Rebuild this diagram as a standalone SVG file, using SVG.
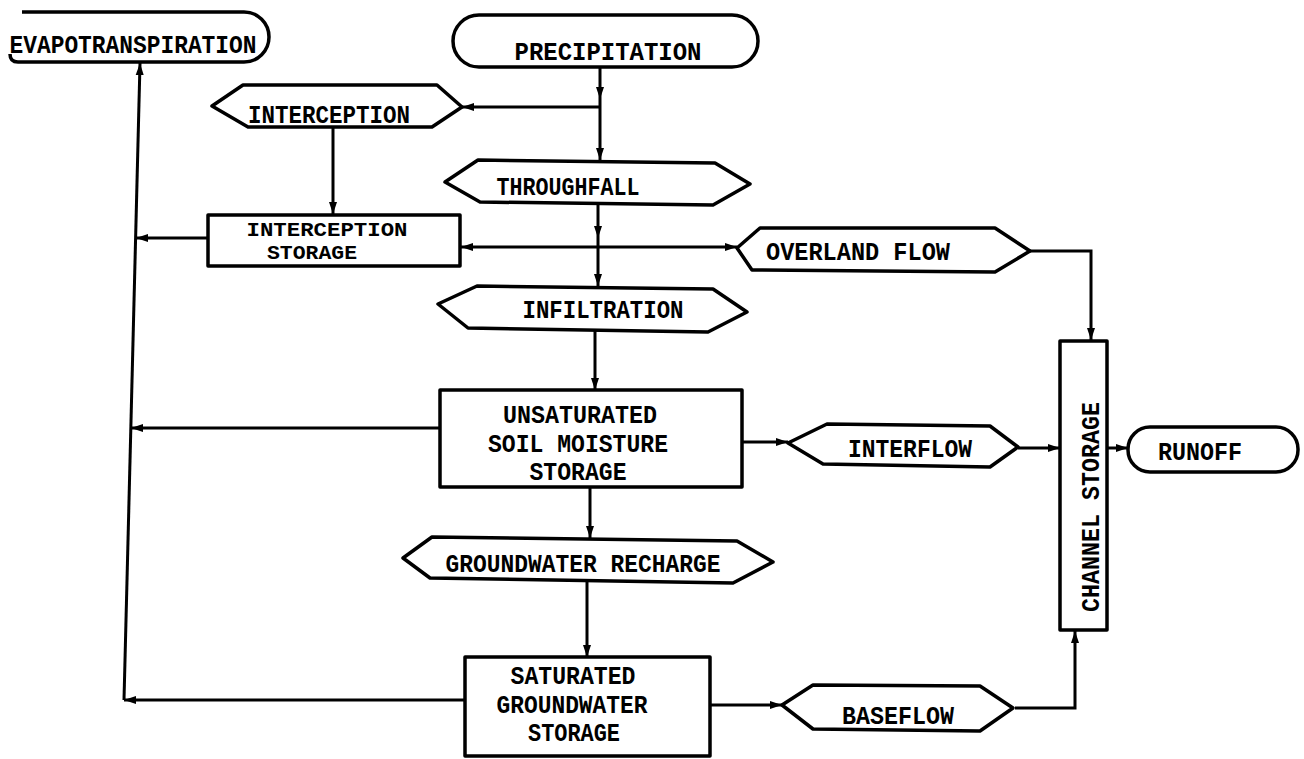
<svg xmlns="http://www.w3.org/2000/svg" width="1304" height="759" viewBox="0 0 1304 759">
<style>
.n{fill:#fff;stroke:#000;stroke-width:3.5;stroke-linejoin:round}
.t{font-family:"Liberation Mono",monospace;font-weight:bold;font-size:25px;fill:#000;text-anchor:middle}
.s{font-size:21px}
.c{fill:none;stroke:#000;stroke-width:3}
.a{marker-end:url(#ah)}
</style>
<defs>
<marker id="ah" markerUnits="userSpaceOnUse" viewBox="0 0 12 10" refX="12" refY="5" markerWidth="12" markerHeight="10" orient="auto">
<path d="M0,1 L12,5 L0,9 z" fill="#000"/>
</marker>
</defs>
<rect width="1304" height="759" fill="#fff"/>
<g id="connectors">
<path class="c a" d="M600,67 L600,99"/>
<path class="c a" d="M600,99 L600,160"/>
<path class="c a" d="M600,107 L462,107"/>
<path class="c a" d="M333,127 L333,214"/>
<path class="c a" d="M208,238 L136,238"/>
<path class="c a" d="M124,700 L140,63"/>
<path class="c a" d="M598,204 L598,238"/>
<path class="c a" d="M598,238 L598,286"/>
<path class="c a" d="M598,247 L461,247"/>
<path class="c a" d="M598,247 L737,247"/>
<path class="c a" d="M1030,251 L1091,251 L1091,340"/>
<path class="c a" d="M595,330 L595,390"/>
<path class="c a" d="M440,428 L131,428"/>
<path class="c a" d="M742,442 L788,442"/>
<path class="c a" d="M1018,448 L1060,448"/>
<path class="c a" d="M1107,448 L1128,448"/>
<path class="c a" d="M590,487 L590,538"/>
<path class="c a" d="M587,580 L587,657"/>
<path class="c a" d="M465,700 L124,700"/>
<path class="c a" d="M710,705 L782,705"/>
<path class="c a" d="M1015,708 L1075,708 L1075,631"/>
</g>
<g id="evapotranspiration">
<path class="n" d="M22,12 L244,12 A25,25 0 0 1 244,62 L18,62 Q10,62 10,54"/>
<text class="t" x="133" y="53" textLength="247" lengthAdjust="spacingAndGlyphs">EVAPOTRANSPIRATION</text>
</g>
<g id="precipitation">
<rect class="n" x="453" y="15" width="305" height="52" rx="26"/>
<text class="t" x="608" y="60" textLength="187" lengthAdjust="spacingAndGlyphs">PRECIPITATION</text>
</g>
<g id="interception">
<polygon class="n" points="212,106 243,85 437,85 462,107 432,127 248,127"/>
<text class="t" x="329" y="123" textLength="162" lengthAdjust="spacingAndGlyphs">INTERCEPTION</text>
</g>
<g id="throughfall">
<polygon class="n" points="445,182 478,160 715,163 750,184 713,205 480,202"/>
<text class="t" x="568" y="195" textLength="143" lengthAdjust="spacingAndGlyphs">THROUGHFALL</text>
</g>
<g id="interception-storage">
<rect class="n" x="208" y="215" width="252" height="51"/>
<text class="t s" x="327" y="236" textLength="161" lengthAdjust="spacingAndGlyphs">INTERCEPTION</text>
<text class="t s" x="312" y="259" textLength="90" lengthAdjust="spacingAndGlyphs">STORAGE</text>
</g>
<g id="overland-flow">
<polygon class="n" points="737,248 760,228 995,228 1030,251 995,272 752,270"/>
<text class="t" x="858" y="260" textLength="184" lengthAdjust="spacingAndGlyphs">OVERLAND FLOW</text>
</g>
<g id="infiltration">
<polygon class="n" points="438,304 477,286 713,289 747,312 708,332 468,328"/>
<text class="t" x="603" y="318" textLength="161" lengthAdjust="spacingAndGlyphs">INFILTRATION</text>
</g>
<g id="unsaturated-storage">
<rect class="n" x="440" y="390" width="302" height="97"/>
<text class="t" x="580" y="423" textLength="154" lengthAdjust="spacingAndGlyphs">UNSATURATED</text>
<text class="t" x="578" y="452" textLength="180" lengthAdjust="spacingAndGlyphs">SOIL MOISTURE</text>
<text class="t" x="578" y="480" textLength="97" lengthAdjust="spacingAndGlyphs">STORAGE</text>
</g>
<g id="interflow">
<polygon class="n" points="788,443 827,424 990,426 1018,447 990,467 823,464"/>
<text class="t" x="910" y="457" textLength="124" lengthAdjust="spacingAndGlyphs">INTERFLOW</text>
</g>
<g id="channel-storage">
<rect class="n" x="1060" y="341" width="47" height="289"/>
<text class="t" transform="translate(1099,507) rotate(-90)" x="0" y="0" textLength="210" lengthAdjust="spacingAndGlyphs">CHANNEL STORAGE</text>
</g>
<g id="runoff">
<rect class="n" x="1128" y="427" width="170" height="45" rx="22"/>
<text class="t" x="1200" y="460" textLength="84" lengthAdjust="spacingAndGlyphs">RUNOFF</text>
</g>
<g id="groundwater-recharge">
<polygon class="n" points="403,558 432,537 737,541 773,562 733,583 430,578"/>
<text class="t" x="583" y="572" textLength="275" lengthAdjust="spacingAndGlyphs">GROUNDWATER RECHARGE</text>
</g>
<g id="saturated-storage">
<rect class="n" x="465" y="657" width="245" height="99"/>
<text class="t" x="573" y="684" textLength="125" lengthAdjust="spacingAndGlyphs">SATURATED</text>
<text class="t" x="572" y="713" textLength="151" lengthAdjust="spacingAndGlyphs">GROUNDWATER</text>
<text class="t" x="574" y="741" textLength="92" lengthAdjust="spacingAndGlyphs">STORAGE</text>
</g>
<g id="baseflow">
<polygon class="n" points="782,705 813,685 980,686 1013,708 980,731 813,729"/>
<text class="t" x="898" y="724" textLength="112" lengthAdjust="spacingAndGlyphs">BASEFLOW</text>
</g>
</svg>
